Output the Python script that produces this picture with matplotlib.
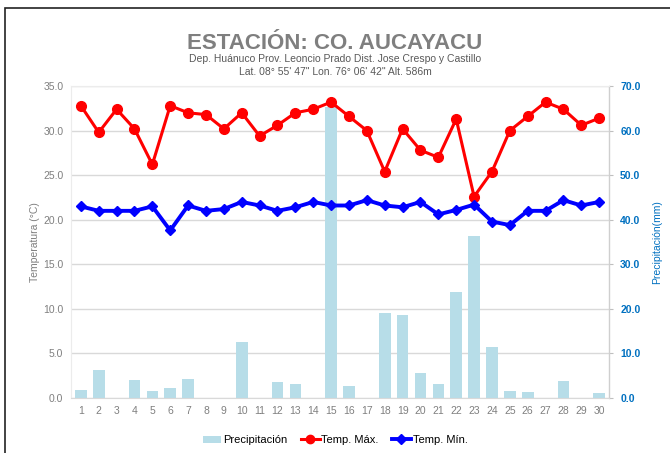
import matplotlib
matplotlib.use("Agg")
import matplotlib.pyplot as plt
from matplotlib.patches import Rectangle
from matplotlib.lines import Line2D
from matplotlib.patches import Patch

plt.rcParams['font.family'] = ['Liberation Sans', 'DejaVu Sans']

days = list(range(1, 31))
tmax = [32.8, 29.8, 32.4, 30.2, 26.2, 32.8, 32.0, 31.8, 30.2, 32.0,
        29.4, 30.6, 32.0, 32.4, 33.2, 31.6, 30.0, 25.4, 30.2, 27.8,
        27.0, 31.3, 22.6, 25.4, 30.0, 31.6, 33.2, 32.4, 30.6, 31.4]
tmin = [21.5, 21.0, 21.0, 21.0, 21.5, 18.8, 21.6, 21.0, 21.2, 22.0,
        21.6, 21.0, 21.4, 22.0, 21.6, 21.6, 22.2, 21.6, 21.4, 22.0,
        20.6, 21.1, 21.7, 19.8, 19.4, 21.0, 21.0, 22.2, 21.6, 22.0]
precip = [1.9, 6.3, 0.0, 4.1, 1.6, 2.2, 4.3, 0.0, 0.0, 12.5,
          0.0, 3.7, 3.1, 0.0, 65.2, 2.8, 0.0, 19.0, 18.6, 5.7,
          3.2, 23.8, 36.4, 11.4, 1.6, 1.4, 0.0, 3.9, 0.0, 1.2]
left_ticks = [0, 5, 10, 15, 20, 25, 30, 35]
right_ticks = [0, 10, 20, 30, 40, 50, 60, 70]

gray = '#7f7f7f'
blue_txt = '#0070C0'

fig = plt.figure(figsize=(6.7, 4.53), dpi=100)
fig.patches.append(Rectangle((0.0075, -0.05), 1.2, 1.033, transform=fig.transFigure,
                             fill=False, edgecolor='#222222', linewidth=1.2))

ax = fig.add_axes([0.106, 0.1214, 0.803, 0.6886])
ax2 = ax.twinx()

ax2.bar(days, precip, width=0.65, color='#B7DDE8', zorder=1)
ax2.set_ylim(0, 70)
ax2.set_yticks(right_ticks)
ax2.set_yticklabels([f'{v:.1f}' for v in right_ticks], color=blue_txt,
                    fontsize=7.5, fontweight='bold')
ax2.set_ylabel('Precipitación(mm)', color=blue_txt, fontsize=7.5, labelpad=8)
ax2.tick_params(axis='y', length=3, color='#bfbfbf', pad=5)

ax.set_zorder(ax2.get_zorder() + 1)
ax.patch.set_visible(False)
ax.plot(days, tmax, color='#FF0000', marker='o', markersize=7, linewidth=2.2,
        zorder=4)
ax.plot(days, tmin, color='#0000FF', marker='D', markersize=5.5, linewidth=2.8,
        zorder=4)
ax.set_ylim(0, 35)
ax.set_xlim(0.45, 30.55)
ax.set_yticks(left_ticks)
ax.set_yticklabels([f'{v:.1f}' for v in left_ticks], color=gray, fontsize=7.5)
ax.set_xticks(days)
ax.set_xticklabels([str(d) for d in days], color=gray, fontsize=7.5)
ax.tick_params(axis='y', length=0, pad=5.5)
ax.tick_params(axis='x', length=0, pad=6)
ax.set_ylabel('Temperatura (°C)', color=gray, fontsize=7.5, labelpad=2)

for v in right_ticks:
    ax2.axhline(v, color='#d9d9d9', linewidth=1, zorder=0)

for a in (ax, ax2):
    for s in a.spines.values():
        s.set_visible(False)
for side in ('left', 'top', 'bottom'):
    ax2.spines[side].set_visible(True)
    ax2.spines[side].set_color('#ececec')
    ax2.spines[side].set_linewidth(0.8)
ax2.spines['bottom'].set_color('#d9d9d9')
ax2.spines['right'].set_visible(True)
ax2.spines['right'].set_color('#cfcfcf')
ax2.spines['right'].set_linewidth(1.0)

fig.text(0.5, 0.904, 'ESTACIÓN: CO. AUCAYACU', ha='center', va='center',
         fontsize=16, fontweight='bold', color='#7f7f7f')
fig.text(0.5, 0.870, 'Dep. Huánuco Prov. Leoncio Prado Dist. Jose Crespo y Castillo',
         ha='center', va='center', fontsize=7.5, color='#595959')
fig.text(0.5, 0.840, 'Lat. 08° 55\' 47" Lon. 76° 06\' 42" Alt. 586m',
         ha='center', va='center', fontsize=7.5, color='#595959')

handles = [Patch(facecolor='#B7DDE8', label='Precipitación'),
           Line2D([0], [0], color='#FF0000', marker='o', markersize=6,
                  linewidth=2.2, label='Temp. Máx.'),
           Line2D([0], [0], color='#0000FF', marker='D', markersize=5,
                  linewidth=2.8, label='Temp. Mín.')]
fig.legend(handles=handles, loc='center', bbox_to_anchor=(0.5, 0.028), ncol=3,
           frameon=False, fontsize=8, handlelength=1.7, handletextpad=0.15,
           columnspacing=1.2)

fig.savefig('out.png', dpi=100)
